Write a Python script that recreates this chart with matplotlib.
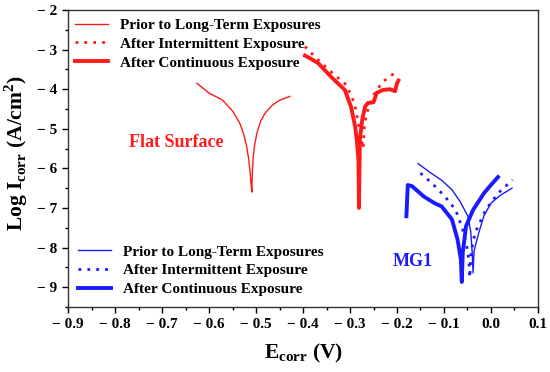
import matplotlib
matplotlib.use("Agg")
import matplotlib.pyplot as plt
from matplotlib.ticker import MultipleLocator, FixedLocator, FixedFormatter
from matplotlib.legend import Legend

plt.rcParams['font.family'] = ['Liberation Serif', 'DejaVu Serif']
plt.rcParams['font.weight'] = 'bold'
plt.rcParams['mathtext.fontset'] = 'custom'
plt.rcParams['mathtext.rm'] = 'Liberation Serif:bold'
plt.rcParams['mathtext.bf'] = 'Liberation Serif:bold'

# Flat surface
flat_prior_E = [-0.626, -0.60, -0.572, -0.550, -0.535, -0.526, -0.520, -0.516, -0.513, -0.511, -0.509,
                -0.508, -0.506, -0.503, -0.498, -0.490, -0.480, -0.465, -0.450, -0.428]
flat_prior_I = [-3.85, -4.10, -4.27, -4.55, -4.85, -5.15, -5.45, -5.75, -6.05, -6.35, -6.60,
                -6.10, -5.70, -5.40, -5.10, -4.80, -4.59, -4.40, -4.28, -4.18]

flat_inter_E = [-0.396, -0.375, -0.354, -0.333, -0.308, -0.291, -0.285, -0.277, -0.272,
                -0.269, -0.262, -0.247, -0.230, -0.205, -0.200]
flat_inter_I = [-2.92, -3.18, -3.41, -3.64, -3.89, -4.34, -4.70, -5.20, -5.50,
                -4.85, -4.52, -4.09, -3.81, -3.59, -3.60]

flat_cont_E = [-0.396, -0.385, -0.368, -0.340, -0.311, -0.298, -0.289, -0.285, -0.282, -0.281,
               -0.279, -0.274, -0.268, -0.262, -0.250, -0.243, -0.230, -0.215, -0.204,
               -0.200, -0.197]
flat_cont_I = [-3.15, -3.22, -3.34, -3.69, -4.02, -4.44, -4.95, -5.35, -5.80, -7.00,
               -5.27, -4.77, -4.44, -4.35, -4.33, -4.09, -4.02, -4.00, -4.05,
               -3.85, -3.78]

# MG1
mg_prior_E = [-0.155, -0.13, -0.105, -0.083, -0.065, -0.049, -0.043, -0.040, -0.038,
              -0.036, -0.032, -0.026, -0.015, 0.000, 0.020, 0.045]
mg_prior_I = [-5.88, -6.10, -6.30, -6.54, -6.85, -7.21, -7.60, -8.10, -8.64,
              -8.10, -7.90, -7.63, -7.20, -6.88, -6.68, -6.50]

mg_inter_E = [-0.150, -0.125, -0.098, -0.075, -0.060, -0.049, -0.046, -0.045,
              -0.042, -0.034, -0.011, 0.015, 0.046]
mg_inter_I = [-6.12, -6.38, -6.71, -7.05, -7.55, -8.10, -8.50, -8.76,
              -8.10, -7.63, -7.05, -6.63, -6.29]

mg_cont_E = [-0.180, -0.177, -0.168, -0.143, -0.120, -0.105, -0.083, -0.071, -0.064, -0.062,
             -0.060, -0.053, -0.038, -0.015, 0.000, 0.015]
mg_cont_I = [-7.21, -6.42, -6.45, -6.71, -6.88, -6.96, -7.29, -7.80, -8.30, -8.87,
             -8.13, -7.46, -7.05, -6.63, -6.42, -6.22]

labels = ['Prior to Long-Term Exposures', 'After Intermittent Exposure', 'After Continuous Exposure']

RED = '#ff1a1a'
BLUE = '#1a1aff'

fig = plt.figure(figsize=(5.5, 3.72), dpi=100)
ax = fig.add_axes([0.124, 0.175, 0.854, 0.798])

r1, = ax.plot(flat_prior_E, flat_prior_I, color=RED, lw=1.0)
r2, = ax.plot(flat_inter_E, flat_inter_I, color=RED, lw=2.0, ls=(0, (1, 2.2)))
r3, = ax.plot(flat_cont_E, flat_cont_I, color=RED, lw=2.8)
b1, = ax.plot(mg_prior_E, mg_prior_I, color=BLUE, lw=1.0)
b2, = ax.plot(mg_inter_E, mg_inter_I, color=BLUE, lw=2.0, ls=(0, (1, 2.2)))
b3, = ax.plot(mg_cont_E, mg_cont_I, color=BLUE, lw=2.8)

ax.set_xlim(-0.9, 0.1)
ax.set_ylim(-9.5, -2)

xt = [-0.9, -0.8, -0.7, -0.6, -0.5, -0.4, -0.3, -0.2, -0.1, 0.0, 0.1]
xtl = ['\u2212 0.9', '\u2212 0.8', '\u2212 0.7', '\u2212 0.6', '\u2212 0.5', '\u2212 0.4',
       '\u2212 0.3', '\u2212 0.2', '\u2212 0.1', '0.0', '0.1']
yt = [-9, -8, -7, -6, -5, -4, -3, -2]
ytl = ['\u2212 9', '\u2212 8', '\u2212 7', '\u2212 6', '\u2212 5', '\u2212 4', '\u2212 3', '\u2212 2']
ax.xaxis.set_major_locator(FixedLocator(xt))
ax.xaxis.set_major_formatter(FixedFormatter(xtl))
ax.yaxis.set_major_locator(FixedLocator(yt))
ax.yaxis.set_major_formatter(FixedFormatter(ytl))
ax.xaxis.set_minor_locator(MultipleLocator(0.05))
ax.yaxis.set_minor_locator(MultipleLocator(0.5))
ax.tick_params(which='major', direction='out', length=4, width=1.0, labelsize=11, pad=4)
ax.tick_params(which='minor', direction='out', length=2.5, width=1.0)
for lab in ax.get_xticklabels() + ax.get_yticklabels():
    lab.set_fontweight('bold')
for s in ax.spines.values():
    s.set_linewidth(1.0)
    s.set_color('#333333')

ax.set_xlabel(r'E$_{\mathregular{corr}}$ (V)', fontsize=15.5, fontweight='bold', labelpad=8)
ax.set_ylabel(r'Log I$_{\mathregular{corr}}$ (A/cm$^{\mathregular{2}}$)', fontsize=15.5,
              fontweight='bold')
ax.yaxis.set_label_coords(-0.082, 0.52)

leg_kw = dict(frameon=False, handlelength=2.15, handletextpad=0.8, borderpad=0.0,
              labelspacing=0.33, borderaxespad=0.0, prop={'weight': 'bold', 'size': 11})
leg1 = Legend(ax, [r1, r2, r3], labels, loc='upper left', bbox_to_anchor=(0.015, 0.972), **leg_kw)
ax.add_artist(leg1)
leg2 = Legend(ax, [b1, b2, b3], labels, loc='upper left', bbox_to_anchor=(0.021, 0.209), **leg_kw)
ax.add_artist(leg2)

ax.text(-0.670, -5.35, 'Flat Surface', color=RED, fontsize=13, fontweight='bold', ha='center', va='center')
ax.text(-0.166, -8.35, 'MG1', color=BLUE, fontsize=13, fontweight='bold', ha='center', va='center')

fig.savefig('out.png', dpi=100)
